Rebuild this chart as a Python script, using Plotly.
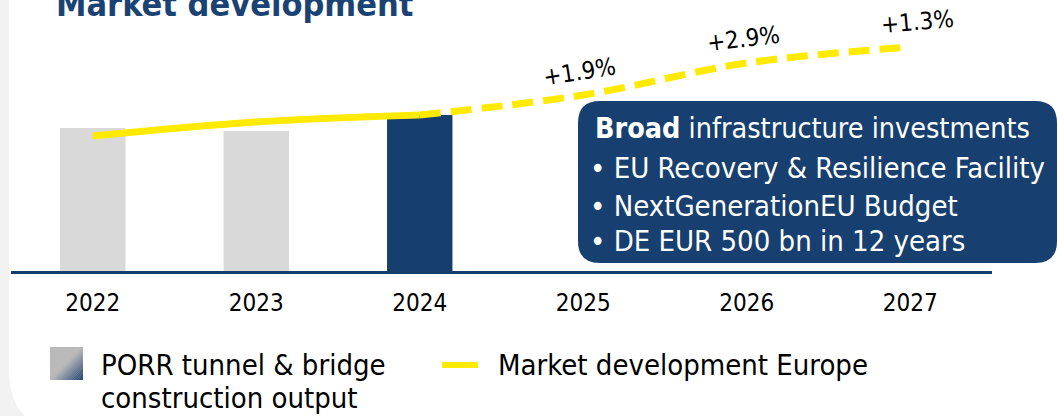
import plotly.graph_objects as go

# ---- data ----
years = ["2022", "2023", "2024", "2025", "2026", "2027"]
porr_output = [143, 140, 156, None, None, None]          # bar heights (index units)
market_actual = [135, 149, 156, None, None, None]        # solid part
market_forecast = [None, None, 156, 176, 208, 224]       # dashed part
growth_labels = ["+1.9%", "+2.9%", "+1.3%"]
bar_colors = ["#D9D9D9", "#D9D9D9", "#153D6D", "#D9D9D9", "#D9D9D9", "#D9D9D9"]
box_lines = ["<b>Broad</b> infrastructure investments",
             "• EU Recovery &amp; Resilience Facility",
             "• NextGenerationEU Budget",
             "• DE EUR 500 bn in 12 years"]

NAVY = "#153D6D"
YELLOW = "#FFEA00"
FONT = "DejaVu Sans Condensed, DejaVu Sans, sans-serif"

W, H = 1058, 416
L, R, T, B = 11, 66, 0, 145
PW, PH = W - L - R, H - T - B


def px(x):
    return (x - L) / PW


def py(y):
    return (H - B - y) / PH


def rpath(x0, y0, x1, y1, r_tl=0, r_tr=0, r_br=0, r_bl=0):
    # rounded rectangle in pixel space (y down) -> paper path
    def P(x, y):
        return f"{px(x):.5f},{py(y):.5f}"
    s = f"M {P(x0 + r_tl, y0)} L {P(x1 - r_tr, y0)} Q {P(x1, y0)} {P(x1, y0 + r_tr)} "
    s += f"L {P(x1, y1 - r_br)} Q {P(x1, y1)} {P(x1 - r_br, y1)} "
    s += f"L {P(x0 + r_bl, y1)} Q {P(x0, y1)} {P(x0, y1 - r_bl)} "
    s += f"L {P(x0, y0 + r_tl)} Q {P(x0, y0)} {P(x0 + r_tl, y0)} Z"
    return s


fig = go.Figure()
fig.add_trace(go.Bar(x=years, y=porr_output, marker=dict(color=bar_colors, line=dict(width=0)),
                     width=0.4, showlegend=False, hoverinfo="skip"))
fig.add_trace(go.Scatter(x=years, y=market_actual, mode="lines",
                         line=dict(color=YELLOW, width=7, shape="spline"),
                         showlegend=False, hoverinfo="skip"))
fig.add_trace(go.Scatter(x=years, y=market_forecast, mode="lines",
                         line=dict(color=YELLOW, width=7, shape="spline", dash="21px,10px"),
                         showlegend=False, hoverinfo="skip"))

shapes = []
# white slide panel with rounded bottom-left corner
shapes.append(dict(type="path", xref="paper", yref="paper", layer="below",
                   path=rpath(9, -20, 1100, 430, r_bl=60),
                   fillcolor="white", line=dict(width=0)))
# info box
shapes.append(dict(type="path", xref="paper", yref="paper", layer="above",
                   path=rpath(578, 101, 1057, 263, 22, 22, 22, 22),
                   fillcolor="#173F6F", line=dict(width=0)))
# legend: gradient square (grey -> navy along diagonal)
sq_x0, sq_y0, sq_s = 50, 347, 33
shapes.append(dict(type="rect", xref="paper", yref="paper", layer="above",
                   x0=px(sq_x0), x1=px(sq_x0 + sq_s), y0=py(sq_y0 + sq_s), y1=py(sq_y0),
                   fillcolor="#B9B9B9", line=dict(width=0)))
n = 14
c0 = (185, 185, 185)
c1 = (24, 60, 110)


def clip_line(t):
    a = (max(0, t - 1), min(1, t))
    return [(a[0], t - a[0]), (a[1], t - a[1])]


for i in range(n):
    t0 = 1.0 + i / n
    t1 = 1.0 + (i + 1) / n
    f = (i + 0.5) / n
    col = "rgb(%d,%d,%d)" % tuple(int(c0[k] + (c1[k] - c0[k]) * f) for k in range(3))
    p0 = clip_line(t0)
    p1 = clip_line(t1)
    poly = [p0[0], p0[1], p1[1], p1[0]] if t1 < 2 else [p0[0], p0[1], (1, 1)]
    path = "M " + " L ".join(f"{px(sq_x0 + u * sq_s):.5f},{py(sq_y0 + v * sq_s):.5f}" for u, v in poly) + " Z"
    shapes.append(dict(type="path", xref="paper", yref="paper", layer="above",
                       path=path, fillcolor=col, line=dict(width=0)))
# legend yellow dash
shapes.append(dict(type="rect", xref="paper", yref="paper", layer="above",
                   x0=px(442), x1=px(478), y0=py(368), y1=py(362),
                   fillcolor=YELLOW, line=dict(width=0)))

ann = []
# title (cut at top, as in the source slide)
ann.append(dict(text="<b>Market development</b>", x=px(54), y=py(4), xref="paper", yref="paper",
                xanchor="left", yanchor="middle", showarrow=False,
                font=dict(family=FONT, size=34, color="#1A4273")))
# growth labels
for txt, (x, y, a) in zip(growth_labels, [(579, 72, -9), (743, 39, -7), (917, 22, -5)]):
    ann.append(dict(text=txt, x=px(x), y=py(y), xref="paper", yref="paper",
                    xanchor="center", yanchor="middle", showarrow=False, textangle=a,
                    font=dict(family=FONT, size=24, color="black")))
# box text
for txt, sz, (x, y) in zip(box_lines, [28.5, 29, 29, 29], [(593, 128), (588, 168), (588, 206), (588, 241)]):
    ann.append(dict(text=txt, x=px(x), y=py(y), xref="paper", yref="paper",
                    xanchor="left", yanchor="middle", showarrow=False,
                    font=dict(family=FONT, size=sz, color="white")))
# legend text
for txt, (x, y) in zip(["PORR tunnel &amp; bridge", "construction output", "Market development Europe"],
                       [(99, 365), (99, 398), (496, 365)]):
    ann.append(dict(text=txt, x=px(x), y=py(y), xref="paper", yref="paper",
                    xanchor="left", yanchor="middle", showarrow=False,
                    font=dict(family=FONT, size=29, color="black")))

fig.update_layout(
    width=W, height=H,
    margin=dict(l=L, r=R, t=T, b=B, pad=0),
    paper_bgcolor="#F2F2F2", plot_bgcolor="rgba(0,0,0,0)",
    shapes=shapes, annotations=ann, showlegend=False,
    bargap=0.6,
    xaxis=dict(type="category", range=[-0.5, 5.5], showgrid=False, zeroline=False,
               showline=True, linecolor=NAVY, linewidth=2.5, ticks="",
               tickfont=dict(family=FONT, size=24, color="black"), ticklabelstandoff=8,
               fixedrange=True),
    yaxis=dict(visible=False, range=[0, PH], fixedrange=True),
)

fig.write_html("out.html", config={"displayModeBar": False},
               post_script="document.body.style.margin='0';document.body.style.overflow='hidden';")
